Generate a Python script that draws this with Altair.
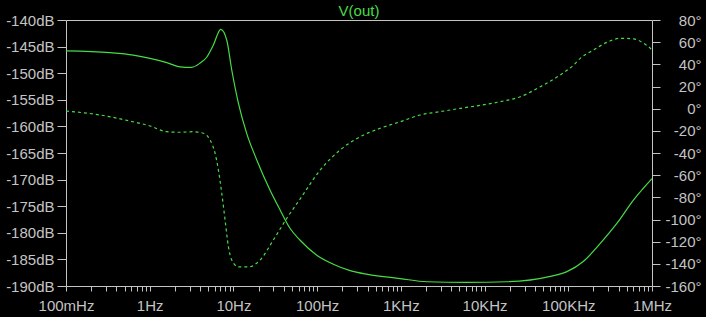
import altair as alt
import pandas as pd

# Magnitude trace (solid)
mag_freq = [0.1, 0.336, 0.637, 1.01, 1.6, 2.3, 3.17, 4.0, 4.8, 5.76, 7.06, 8.33,
            9.55, 11.5, 14.4, 19.0, 27.4, 36.1, 47.6, 62.6, 99, 156, 248, 400, 982,
            2050, 6000, 18500, 61000, 96400, 151000, 241000, 382000, 603000, 1e6]
mag_db = [-145.8, -146.15, -146.6, -147.2, -148.0, -148.8, -148.9, -148.1, -147.0,
          -144.7, -141.75, -143.8, -149.4, -155.7, -161.3, -166.3, -172.0, -175.7,
          -179.2, -181.4, -184.2, -185.9, -187.1, -187.8, -188.6, -189.2, -189.3,
          -189.2, -188.2, -187.3, -185.4, -182.0, -178.2, -173.8, -169.8]

# Phase trace (dashed)
phase_freq = [0.1, 0.255, 0.632, 1.01, 1.6, 2.3, 3.3, 4.38, 5.26, 6.04, 6.61, 7.26,
              7.95, 8.71, 9.55, 11.5, 15.1, 20.8, 30.0, 43.4, 62.6, 109, 188, 327,
              566, 982, 1700, 2950, 5120, 8880, 15400, 26700, 46300, 80200, 116000,
              139000, 200000, 290000, 418000, 603000, 794000, 955000, 1e6]
phase_deg = [-2.1, -5.7, -11.8, -15.6, -20.8, -21.3, -20.8, -22.2, -28.3, -40.3,
             -55.3, -76.4, -100.5, -124.5, -136.6, -142.8, -142.8, -136.6, -118.5,
             -98.9, -81.5, -55.3, -37.3, -25.3, -17.7, -11.8, -5.7, -2.7, 0.3, 3.0,
             6.3, 10.8, 19.8, 30.4, 39.4, 45.4, 52.9, 59.9, 63.5, 62.9, 59.0, 54.5, 52.9]

# Axis ticks / labels
decade_labels = ["100mHz", "1Hz", "10Hz", "100Hz", "1KHz", "10KHz", "100KHz", "1MHz"]
x_ticks = [k * 10.0 ** n for n in range(-1, 6) for k in range(1, 10)] + [1e6]
db_ticks = [-190, -185, -180, -175, -170, -165, -160, -155, -150, -145, -140]
deg_ticks = [-160, -140, -120, -100, -80, -60, -40, -20, 0, 20, 40, 60, 80]

GREEN = "#46dc46"
GRAY = "#c4c4c4"
FONT = "Liberation Sans"

mag_df = pd.DataFrame({"f": mag_freq, "v": mag_db})
ph_df = pd.DataFrame({"f": phase_freq, "v": phase_deg})

lab_arr = "[" + ",".join("'%s'" % s for s in decade_labels) + "]"
lexp = ("abs(log(datum.value)/LN10 - round(log(datum.value)/LN10)) < 0.001 ? "
        + lab_arr + "[round(log(datum.value)/LN10)+1] : ''")

x_enc = alt.X("f:Q",
              scale=alt.Scale(type="log", domain=[0.1, 1e6], nice=False),
              axis=alt.Axis(values=x_ticks, labelExpr=lexp, title=None, grid=False,
                            domain=False, tickSize=5, tickColor=GRAY, labelColor=GRAY,
                            labelFontSize=15, labelFont=FONT, labelPadding=7,
                            labelOverlap=False, labelFlush=False))

mag = alt.Chart(mag_df).mark_line(color=GREEN, strokeWidth=1.2, interpolate="monotone").encode(
    x=x_enc,
    y=alt.Y("v:Q", scale=alt.Scale(domain=[-190, -140], nice=False, zero=False),
            axis=alt.Axis(orient="left", values=db_ticks, labelExpr="datum.value + 'dB'",
                          title=None, grid=False, domain=False, tickSize=9, tickColor=GRAY,
                          labelColor=GRAY, labelFontSize=15, labelFont=FONT, labelPadding=3))
)

ph = alt.Chart(ph_df).mark_line(color=GREEN, strokeWidth=1.2, strokeDash=[3, 3],
                                interpolate="monotone").encode(
    x=x_enc,
    y=alt.Y("v:Q", scale=alt.Scale(domain=[-160, 80], nice=False, zero=False),
            axis=alt.Axis(orient="right", values=deg_ticks, labelExpr="datum.value + '°'",
                          title=None, grid=False, domain=False, tickSize=8, tickColor=GRAY,
                          labelColor=GRAY, labelFontSize=15, labelFont=FONT,
                          labelPadding=41, labelAlign="right"))
)

chart = alt.layer(mag, ph).resolve_scale(y="independent").properties(
    width=586, height=266,
    padding={"left": 66, "top": 20, "right": 54, "bottom": 31},
    autosize=alt.AutoSizeParams(type="none"),
    title=alt.TitleParams("V(out)", color=GREEN, fontSize=15, font=FONT,
                          fontWeight="normal", anchor="middle", offset=-6),
).configure(background="black").configure_view(stroke=GRAY, strokeWidth=1)

chart.save("out.html", embed_options={"renderer": "svg", "actions": False})
